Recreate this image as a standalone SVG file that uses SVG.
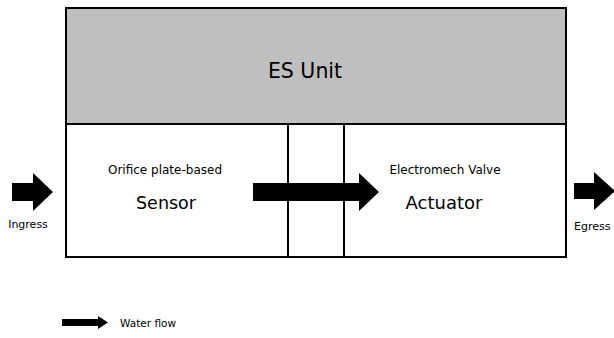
<svg xmlns="http://www.w3.org/2000/svg" width="614" height="338" viewBox="0 0 614 338">
<style>
.box{stroke:#000;stroke-width:2;}
.t{font-family:"DejaVu Sans",sans-serif;fill:#000;}
.arrow{fill:#000;}
</style>
<rect width="614" height="338" fill="#fff"/>
<g id="es-unit">
<rect class="box" x="66" y="8" width="500" height="116" fill="#bfbfbf"/>
<text class="t" x="305" y="78" font-size="20.5" text-anchor="middle">ES Unit</text>
</g>
<g id="sensor">
<rect class="box" x="66" y="124" width="222" height="133" fill="#fff"/>
<text class="t" x="165" y="174" font-size="12" text-anchor="middle">Orifice plate-based</text>
<text class="t" x="166" y="209" font-size="17.5" text-anchor="middle">Sensor</text>
</g>
<g id="middle">
<rect class="box" x="288" y="124" width="56" height="133" fill="#fff"/>
</g>
<g id="actuator">
<rect class="box" x="344" y="124" width="222" height="133" fill="#fff"/>
<text class="t" x="445" y="174" font-size="12" text-anchor="middle">Electromech Valve</text>
<text class="t" x="444" y="209" font-size="18" text-anchor="middle">Actuator</text>
</g>
<g id="ingress">
<text class="t" x="28" y="228" font-size="11" text-anchor="middle">Ingress</text>
</g>
<g id="egress">
<text class="t" x="574" y="230" font-size="11">Egress</text>
</g>
<g id="legend">
<polygon class="arrow" points="62,319 98,319 98,316 108,322.5 98,329 98,326 62,326"/>
<text class="t" x="120" y="327" font-size="10.5">Water flow</text>
</g>
<g id="connectors">
<polygon class="arrow" points="12,183 33,183 33,173 53,192 33,211 33,201 12,201"/>
<polygon class="arrow" points="253,183 359,183 359,173 379,192 359,211 359,201 253,201"/>
<polygon class="arrow" points="574,183 594,183 594,172 615,191 594,210 594,199 574,199"/>
</g>
</svg>
